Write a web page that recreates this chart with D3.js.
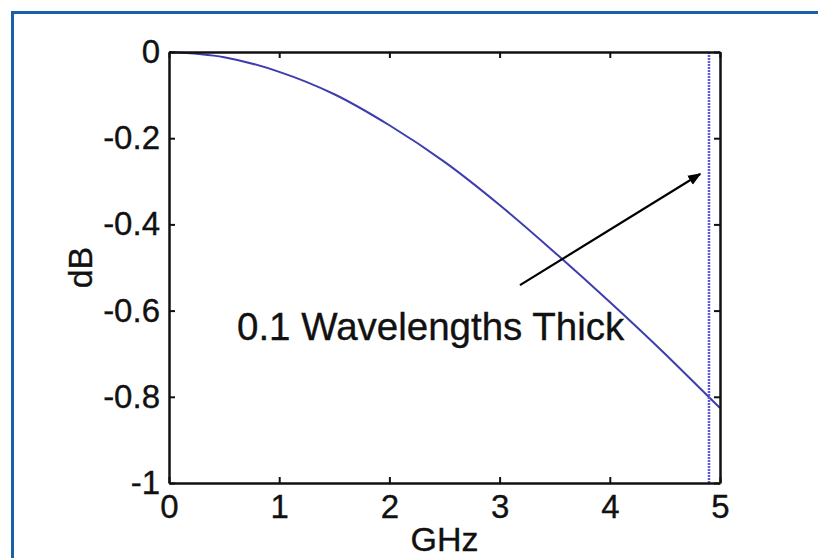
<!DOCTYPE html>
<html>
<head>
<meta charset="utf-8">
<script src="https://cdn.jsdelivr.net/npm/d3@7"></script>
<style>
  body { margin: 0; background: #fff; }
  svg { display: block; font-family: Arial, 'Liberation Sans', sans-serif; }
  text { stroke: #111; stroke-width: 0.35px; }
</style>
</head>
<body>
<div id="chart"></div>
<script>
// curve
const freqGHz = [0, 0.5, 1, 1.5, 2, 2.5, 3, 3.5, 4, 4.5, 5]
const lossDB = [0, -0.012, -0.046, -0.098, -0.17, -0.255, -0.355, -0.465, -0.58, -0.7, -0.826]

const xTicks = [0, 1, 2, 3, 4, 5]
const yTicks = [0, -0.2, -0.4, -0.6, -0.8, -1]
const yTickLabels = ['0', '-0.2', '-0.4', '-0.6', '-0.8', '-1']

const markerGHz = 4.9
const arrowFrom = [3.185, -0.541]
const arrowTo = [4.82, -0.283]
const noteText = '0.1 Wavelengths Thick'

const W = 818
const H = 558
const plot = { left: 169, right: 720, top: 52, bottom: 483 }

const svg = d3.select('#chart').append('svg')
    .attr('width', W)
    .attr('height', H)

// frame
svg.append('line')
    .attr('x1', 11).attr('x2', W).attr('y1', 12.5).attr('y2', 12.5)
    .attr('stroke', '#1b5ea9').attr('stroke-width', 3)
svg.append('line')
    .attr('x1', 12.5).attr('x2', 12.5).attr('y1', 11).attr('y2', H)
    .attr('stroke', '#1b5ea9').attr('stroke-width', 3)

const x = d3.scaleLinear().domain([0, 5]).range([plot.left, plot.right])
const y = d3.scaleLinear().domain([-1, 0]).range([plot.bottom, plot.top])

const defs = svg.append('defs')
defs.append('marker')
    .attr('id', 'head')
    .attr('viewBox', '0 0 10 10')
    .attr('refX', 9).attr('refY', 5)
    .attr('markerWidth', 6).attr('markerHeight', 6)
    .attr('markerUnits', 'strokeWidth')
    .attr('orient', 'auto')
    .append('path')
    .attr('d', 'M0,1 L10,5 L0,9 Z')
    .attr('fill', '#000')

// data line
const line = d3.line()
    .x((d, i) => x(freqGHz[i]))
    .y((d) => y(d))
    .curve(d3.curveCatmullRom)

svg.append('path')
    .datum(lossDB)
    .attr('d', line)
    .attr('fill', 'none')
    .attr('stroke', '#3d3dae')
    .attr('stroke-width', 2)

// marker at 4.9 GHz
svg.append('line')
    .attr('x1', x(markerGHz)).attr('x2', x(markerGHz))
    .attr('y1', y(0)).attr('y2', y(-1))
    .attr('stroke', '#5a5ad6')
    .attr('stroke-width', 2.5)
    .attr('stroke-dasharray', '2,1')

// axes
const fontSize = 33
const bottomAxis = d3.axisBottom(x).tickValues(xTicks).tickFormat(d3.format('d'))
    .tickSizeInner(-6).tickSizeOuter(0).tickPadding(12)
const leftAxis = d3.axisLeft(y).tickValues(yTicks).tickFormat((d, i) => yTickLabels[i])
    .tickSizeInner(-6).tickSizeOuter(0).tickPadding(9)
const topAxis = d3.axisTop(x).tickValues(xTicks).tickFormat('')
    .tickSizeInner(-6).tickSizeOuter(0)
const rightAxis = d3.axisRight(y).tickValues(yTicks).tickFormat('')
    .tickSizeInner(-6).tickSizeOuter(0)

const axes = [
    [bottomAxis, 'translate(0,' + plot.bottom + ')'],
    [leftAxis, 'translate(' + plot.left + ',0)'],
    [topAxis, 'translate(0,' + plot.top + ')'],
    [rightAxis, 'translate(' + plot.right + ',0)']
]
axes.forEach(([axis, t]) => {
    const g = svg.append('g').attr('transform', t).call(axis)
    g.select('.domain').attr('stroke', '#111').attr('stroke-width', 2.5)
    g.selectAll('.tick line').attr('stroke', '#111').attr('stroke-width', 2)
    g.selectAll('.tick text')
        .attr('fill', '#111')
        .style('font-size', fontSize + 'px')
        .style('font-family', 'Arial, "Liberation Sans", sans-serif')
})

// axis titles
svg.append('text')
    .attr('x', (plot.left + plot.right) / 2)
    .attr('y', 551)
    .attr('text-anchor', 'middle')
    .style('font-size', '34px')
    .attr('fill', '#111')
    .text('GHz')

svg.append('text')
    .attr('transform', 'translate(92,' + (plot.top + plot.bottom) / 2 + ') rotate(-90)')
    .attr('text-anchor', 'middle')
    .style('font-size', '34px')
    .attr('fill', '#111')
    .text('dB')

// annotation
svg.append('line')
    .attr('x1', x(arrowFrom[0])).attr('y1', y(arrowFrom[1]))
    .attr('x2', x(arrowTo[0])).attr('y2', y(arrowTo[1]))
    .attr('stroke', '#000')
    .attr('stroke-width', 2.2)
    .attr('marker-end', 'url(#head)')

svg.append('text')
    .attr('x', 237)
    .attr('y', 340)
    .style('font-size', '38.5px')
    .attr('fill', '#111')
    .text(noteText)
</script>
</body>
</html>
